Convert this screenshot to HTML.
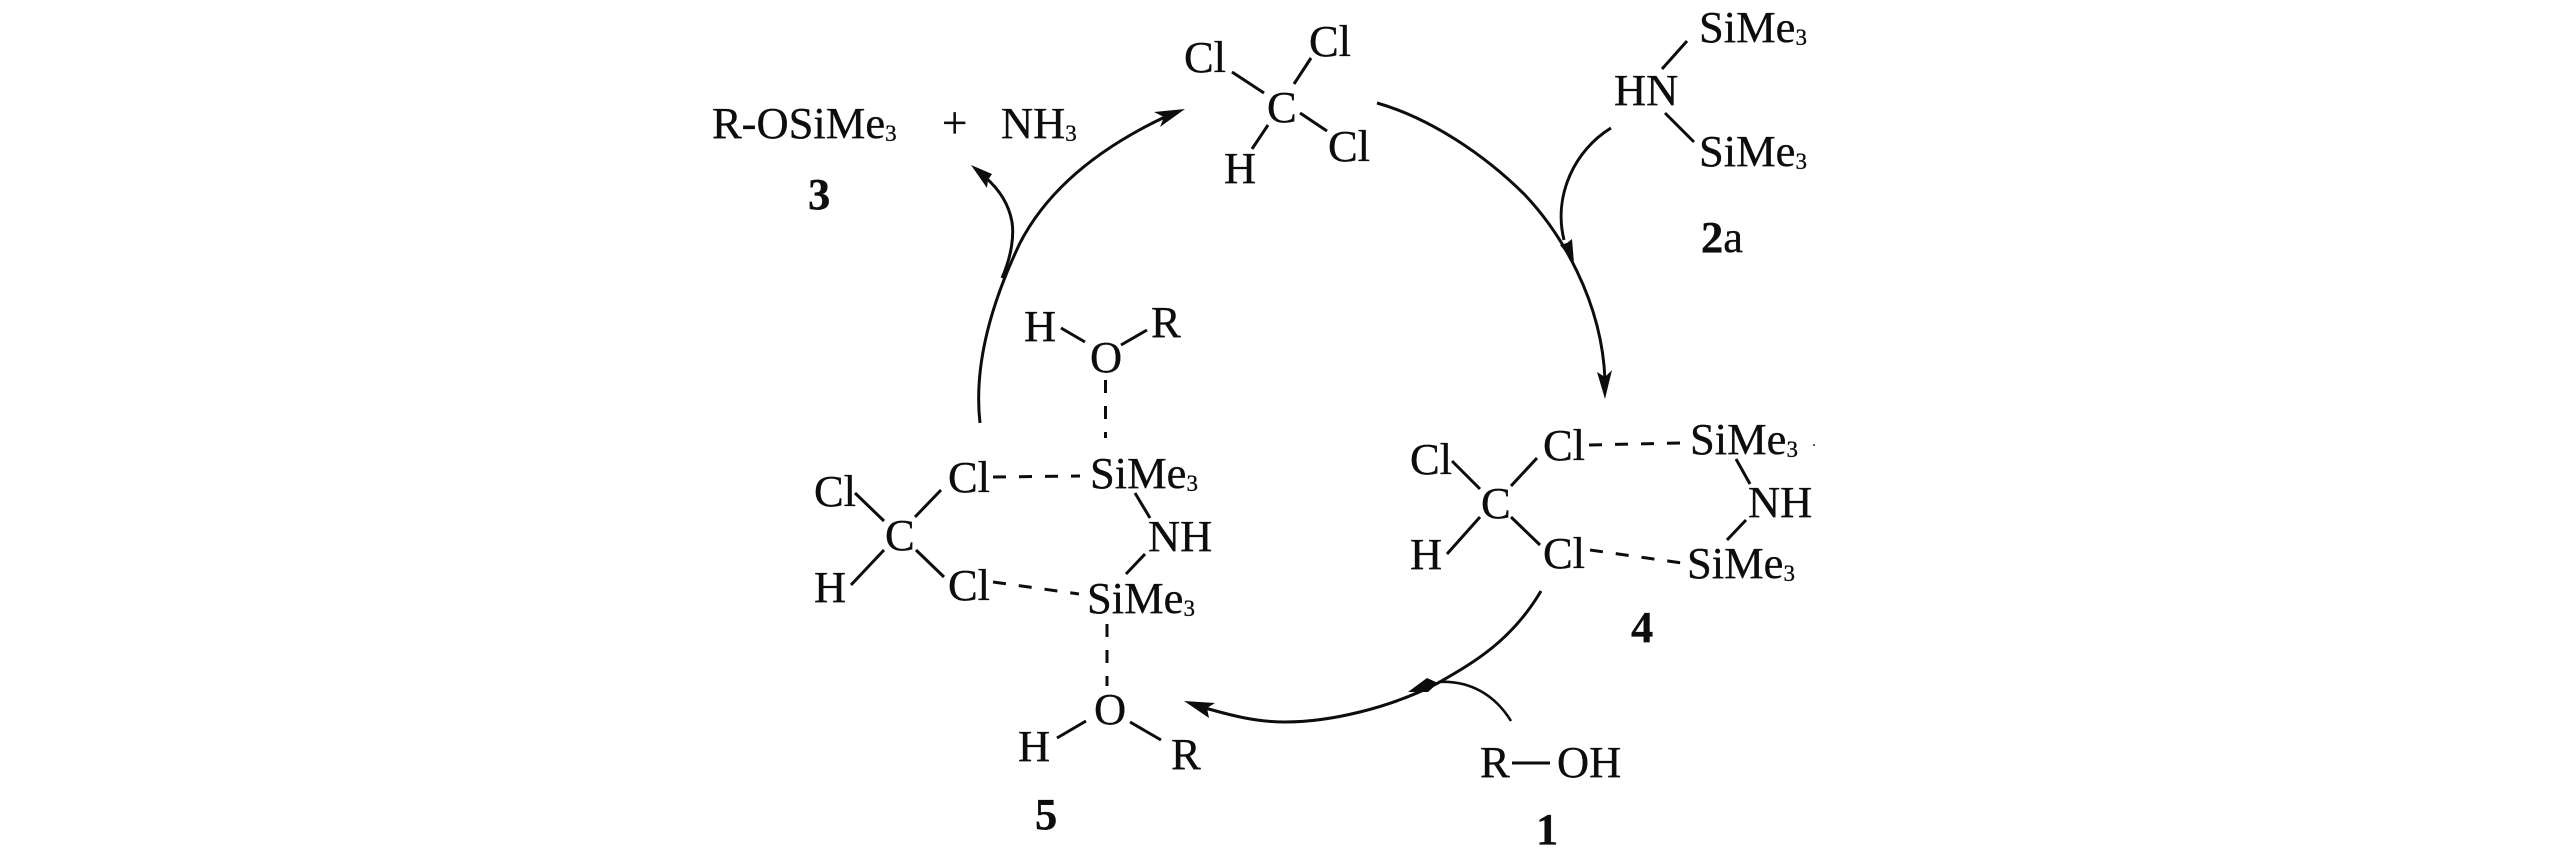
<!DOCTYPE html>
<html>
<head>
<meta charset="utf-8">
<style>
html,body{margin:0;padding:0;background:#fff;width:2567px;height:854px;overflow:hidden}
svg{display:block}
text{font-family:"Liberation Serif",serif;font-size:44.5px;fill:#0d0d0d;stroke:#0d0d0d;stroke-width:.35}
.b{font-weight:bold}
.s{font-size:23px}
line,path.l{stroke:#0d0d0d;stroke-width:3;fill:none;stroke-linecap:butt}
.d{stroke-dasharray:13 13}
path.h{fill:#0d0d0d;stroke:none}
</style>
</head>
<body>
<svg width="2567" height="854" viewBox="0 0 2567 854" xmlns="http://www.w3.org/2000/svg">
<!-- products -->
<text x="712" y="138">R-OSiMe<tspan class="s" dy="3">3</tspan></text>
<text x="942" y="138" style="font-size:45px">+</text>
<text x="1001" y="138">NH<tspan class="s" dy="3">3</tspan></text>
<text class="b" x="808" y="209">3</text>

<!-- CHCl3 -->
<text x="1184" y="72">Cl</text>
<text x="1309" y="56">Cl</text>
<text x="1267" y="122">C</text>
<text x="1328" y="161">Cl</text>
<text x="1224" y="183">H</text>
<line x1="1232" y1="72" x2="1264" y2="93"/>
<line x1="1294" y1="84" x2="1311" y2="58"/>
<line x1="1300" y1="113" x2="1327" y2="131"/>
<line x1="1268" y1="125" x2="1252" y2="149"/>

<!-- 2a -->
<text x="1699" y="42">SiMe<tspan class="s" dy="3">3</tspan></text>
<text x="1614" y="105">HN</text>
<text x="1699" y="166">SiMe<tspan class="s" dy="3">3</tspan></text>
<text x="1701" y="252"><tspan class="b">2</tspan>a</text>
<line x1="1662" y1="69" x2="1687" y2="41"/>
<line x1="1665" y1="113" x2="1694" y2="142"/>

<!-- arrows top right -->
<path class="l" d="M1377,103 C1430,118 1485,155 1525,195 C1560,232 1602,300 1605,380"/>
<path class="h" d="M1605,399 L1597,372 L1605,377 L1612,370 Z"/>
<path class="l" d="M1611,128 C1575,150 1553,195 1564,240"/>
<path class="h" d="M1574,263 L1560,245 L1567,243 L1572,239 Z"/>

<!-- 4 -->
<text x="1410" y="474">Cl</text>
<text x="1543" y="460">Cl</text>
<text x="1690" y="454">SiMe<tspan class="s" dy="3">3</tspan></text>
<text x="1481" y="518">C</text>
<text x="1748" y="517">NH</text>
<text x="1410" y="569">H</text>
<text x="1543" y="568">Cl</text>
<text x="1687" y="578">SiMe<tspan class="s" dy="3">3</tspan></text>
<text class="b" x="1631" y="642">4</text>
<line x1="1452" y1="461" x2="1480" y2="489"/>
<line x1="1511" y1="486" x2="1537" y2="458"/>
<line x1="1480" y1="517" x2="1447" y2="554"/>
<line x1="1511" y1="517" x2="1540" y2="545"/>
<line x1="1736" y1="459" x2="1750" y2="484"/>
<line x1="1746" y1="520" x2="1727" y2="540"/>
<line class="d" x1="1589" y1="445" x2="1680" y2="443"/>
<line class="d" x1="1590" y1="550" x2="1682" y2="563"/>
<rect x="1813" y="444" width="2" height="2" fill="#555"/>

<!-- 1 -->
<text x="1480" y="777">R</text>
<line x1="1512" y1="763" x2="1550" y2="763"/>
<text x="1557" y="777">OH</text>
<text class="b" x="1536" y="844">1</text>

<!-- arrow 4 to 5 -->
<path class="l" d="M1541,591 C1512,640 1475,662 1438,683 C1390,708 1330,722 1285,722 C1255,722 1230,715 1205,708"/>
<path class="h" d="M1184,701 L1215,703 L1207,708 L1209,718 Z"/>
<path class="l" style="stroke-width:2.6" d="M1511,721 C1495,695 1470,680 1438,682"/>
<path class="h" d="M1408,692 L1427,678 L1438,683 L1428,692 Z"/>

<!-- 5 -->
<text x="1024" y="341">H</text>
<text x="1151" y="337">R</text>
<text x="1090" y="372">O</text>
<line x1="1061" y1="328" x2="1085" y2="342"/>
<line x1="1121" y1="345" x2="1147" y2="330"/>
<line class="d" x1="1105.5" y1="380" x2="1105.5" y2="438"/>
<text x="814" y="506">Cl</text>
<text x="948" y="492">Cl</text>
<text x="1090" y="488">SiMe<tspan class="s" dy="3">3</tspan></text>
<text x="885" y="550">C</text>
<text x="1148" y="551">NH</text>
<text x="814" y="602">H</text>
<text x="948" y="600">Cl</text>
<text x="1087" y="613">SiMe<tspan class="s" dy="3">3</tspan></text>
<text x="1094" y="724">O</text>
<text x="1018" y="761">H</text>
<text x="1171" y="769">R</text>
<text class="b" x="1035" y="829">5</text>
<line x1="855" y1="493" x2="884" y2="521"/>
<line x1="915" y1="517" x2="941" y2="490"/>
<line x1="884" y1="550" x2="851" y2="585"/>
<line x1="916" y1="550" x2="944" y2="577"/>
<line x1="1135" y1="493" x2="1150" y2="518"/>
<line x1="1145" y1="554" x2="1126" y2="574"/>
<line class="d" x1="993" y1="477" x2="1080" y2="476"/>
<line class="d" x1="993" y1="582" x2="1079" y2="594"/>
<line class="d" x1="1107" y1="624" x2="1107" y2="686"/>
<line x1="1086" y1="721" x2="1057" y2="738"/>
<line x1="1130" y1="722" x2="1161" y2="740"/>

<!-- arrows left -->
<path class="l" d="M980,423 C974,370 988,310 1020,243 C1050,185 1105,145 1167,116"/>
<path class="h" d="M1185,109 L1154,112 L1164,117 L1160,127 Z"/>
<path class="l" d="M1002,278 C1012,255 1014,235 1012,222 C1009,205 1000,190 985,177"/>
<path class="h" d="M971,165 L992,174 L988,180 L987,188 Z"/>
</svg>
</body>
</html>
